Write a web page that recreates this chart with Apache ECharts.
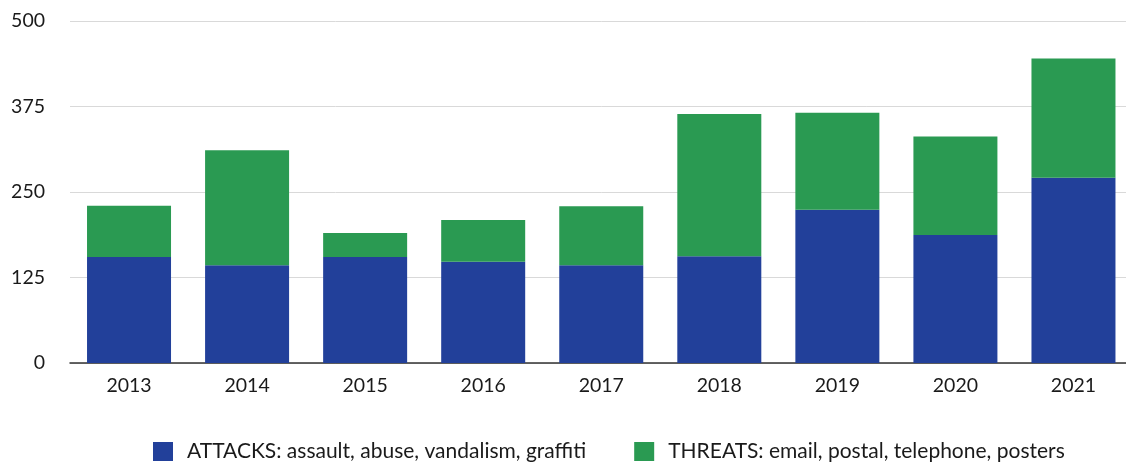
<!DOCTYPE html>
<html>
<head>
<meta charset="utf-8">
<script src="https://cdn.jsdelivr.net/npm/echarts@6/dist/echarts.min.js"></script>
<style>
html,body{margin:0;padding:0;background:#fff;overflow:hidden;width:1126px;height:463px;}
#chart{width:1140px;height:463px;}
</style>
</head>
<body>
<div id="chart"></div>
<script>
const categories = ['2013','2014','2015','2016','2017','2018','2019','2020','2021'];
const attacks = [155, 143, 155, 148, 143, 156, 224, 187, 271];
const threats = [75, 168, 35, 61, 86, 208, 142, 144, 174];
const seriesNames = ['ATTACKS: assault, abuse, vandalism, graffiti', 'THREATS: email, postal, telephone, posters'];
const yTicks = [0, 125, 250, 375, 500];

const chart = echarts.init(document.getElementById('chart'), null, {renderer: 'canvas'});
const font = 'Lato, "Open Sans", sans-serif';
chart.setOption({
  animation: false,
  backgroundColor: '#ffffff',
  grid: {left: 70, top: 21, width: 1062.5, height: 342, containLabel: false},
  legend: {
    left: 153, top: 441, padding: 0,
    itemWidth: 20, itemHeight: 19, itemGap: 48,
    icon: 'rect',
    textStyle: {fontFamily: font, fontSize: 21, color: '#1a1a1a', padding: [0, 0, 0, 9]},
    data: seriesNames
  },
  xAxis: {
    type: 'category',
    data: categories,
    axisLine: {lineStyle: {color: '#333', width: 1.5}},
    axisTick: {show: false},
    axisLabel: {fontFamily: font, fontSize: 19.5, color: '#1a1a1a', margin: 13}
  },
  yAxis: {
    type: 'value',
    min: yTicks[0], max: yTicks[yTicks.length - 1], interval: 125,
    axisLine: {show: false},
    axisTick: {show: false},
    splitLine: {lineStyle: {color: '#d9d9d9', width: 1}},
    axisLabel: {fontFamily: font, fontSize: 19.5, color: '#1a1a1a', margin: 25}
  },
  series: [
    {name: seriesNames[0], type: 'bar', stack: 'total', data: attacks, barWidth: 84,
     itemStyle: {color: '#22409a'}},
    {name: seriesNames[1], type: 'bar', stack: 'total', data: threats, barWidth: 84,
     itemStyle: {color: '#2a9a52'}}
  ]
});
</script>
</body>
</html>
